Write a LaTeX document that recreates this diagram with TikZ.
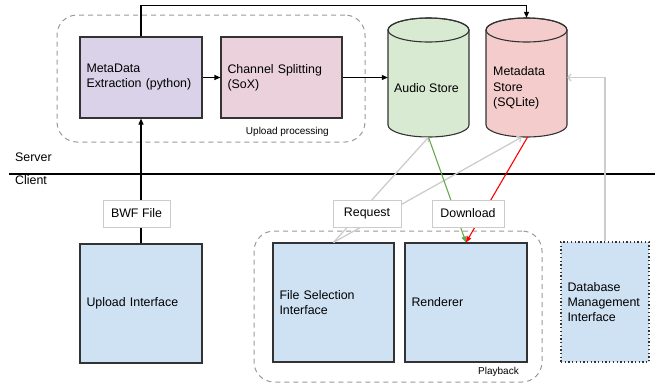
\documentclass[tikz,border=0pt]{standalone}
\usepackage{fontspec}
\setmainfont{Liberation Sans}
\usetikzlibrary{arrows.meta}

\definecolor{lav}{HTML}{D9D2E9}
\definecolor{pinkbox}{HTML}{EAD1DC}
\definecolor{greencyl}{HTML}{D9EAD3}
\definecolor{redcyl}{HTML}{F4CCCC}
\definecolor{bluebox}{HTML}{CFE2F3}
\definecolor{edge}{HTML}{333333}
\definecolor{soft}{HTML}{CCCCCC}
\definecolor{dashgray}{HTML}{999999}
\definecolor{dlgreen}{HTML}{6AA84F}
\definecolor{dlred}{HTML}{FF0000}

% database cylinder: centre x, top, bottom, half width, fill colour
\newcommand\storecyl[5]{%
  \filldraw[fill=#5,draw=edge,line width=1.1pt]
    (#1-#4,#2+12) -- (#1-#4,#3-12)
    arc[start angle=180,end angle=0,x radius=#4,y radius=12]
    -- (#1+#4,#2+12)
    arc[start angle=0,end angle=-180,x radius=#4,y radius=12] -- cycle;
  \draw[edge,line width=1.1pt] (#1,#2+12) ellipse[x radius=#4,y radius=12];
}

\begin{document}
\begin{tikzpicture}[x=1pt,y=-1pt,
  font=\fontsize{12.4}{15}\selectfont,
  block/.style={draw=edge,line width=1.1pt,inner xsep=6.5pt,inner ysep=0pt,align=left},
  tag/.style={draw=soft,fill=white,line width=0.8pt,minimum height=27pt,inner sep=0pt},
  group/.style={draw=dashgray,line width=1pt,dash pattern=on 5pt off 4pt,rounded corners=20pt,inner sep=0pt},
  small/.style={font=\fontsize{10}{12}\selectfont,inner sep=0pt},
  link/.style={draw=black,line width=1.1pt,-{Triangle[length=6pt,width=5pt]}},
  softlink/.style={draw=soft,line width=1.3pt,-{Straight Barb[length=3pt,width=7pt]}},
  dl/.style={line width=1.1pt,-{Triangle[length=6pt,width=5pt]}},
]
\useasboundingbox (0,0) rectangle (657,384);

% dashed groups
\node[group,minimum width=308pt,minimum height=127pt] (upgrp) at (211,78.5) {};
\node[group,minimum width=288pt,minimum height=151pt] (playgrp) at (398,306.5) {};
\node[small,anchor=east] (uplabel) at (329,132) {Upload processing};
\node[small,anchor=east] (playlabel) at (519,372) {Playback};

% server side
\node[block,fill=lav,text width=109pt,minimum height=81pt] (meta) at (141,77.5) {MetaData\\Extraction (python)};
\node[block,fill=pinkbox,text width=108pt,minimum height=81pt] (chan) at (281.5,77.5) {Channel Splitting\\(SoX)};

\storecyl{428.5}{18}{137}{40.5}{greencyl}
\storecyl{526.5}{18}{137}{40.5}{redcyl}
\node[minimum width=81pt,minimum height=119pt,inner sep=0pt] (audio) at (428.5,77.5) {};
\node[minimum width=81pt,minimum height=119pt,inner sep=0pt] (mstore) at (526.5,77.5) {};
\node[inner sep=0pt] (audiotext) at (426.5,88) {Audio Store};
\node[inner sep=0pt,anchor=west,align=left,font=\fontsize{12.4}{15.5}\selectfont] (mstoretext) at (493,88) {Metadata\\Store\\(SQLite)};

% server / client divide
\coordinate (divL) at (9,174);
\coordinate (divR) at (655,174);
\draw[black,line width=1.1pt] (divL) -- (divR);
\node[anchor=west,inner sep=0pt] (server) at (15,157) {Server};
\node[anchor=west,inner sep=0pt] (client) at (15,180) {Client};

% client side
\node[block,fill=bluebox,text width=109pt,minimum height=119pt] (upload) at (141,303.5) {Upload Interface};
\node[block,fill=bluebox,text width=108pt,minimum height=119pt] (filesel) at (333.5,302.5) {File Selection\\Interface};
\node[block,fill=bluebox,text width=109pt,minimum height=119pt] (render) at (466,302.5) {Renderer};
\node[block,fill=bluebox,draw=edge,dash pattern=on 1.3pt off 2.4pt,text width=75pt,minimum height=120pt] (dbm) at (605,302) {Database\\Management\\Interface};

% connectors
\draw[link] (meta.north) -- ++(0,-31) -| (mstore.north);
\draw[link] (meta) -- (chan);
\draw[link] (chan) -- (audio);
\draw[link] (upload) -- (meta);
\draw[softlink] (dbm.north) |- (mstore.east);
\draw[softlink] (filesel.north) -- (audio.south);
\draw[softlink] (filesel.north) -- ([xshift=-5pt]mstore.south);
\draw[dl,draw=dlgreen,-{Triangle[length=6pt,width=5pt,fill=dlgreen]}] (audio.south) -- (render.north);
\draw[dl,draw=dlred,-{Triangle[length=6pt,width=5pt,fill=dlred]}] ([xshift=1pt]mstore.south) -- (render.north);

% connector labels
\node[tag,minimum width=67pt] (bwf) at (136.5,213.5) {BWF File};
\node[tag,minimum width=68pt] (req) at (367,213.5) {Request};
\node[tag,minimum width=72pt] (down) at (468,213.5) {Download};
\end{tikzpicture}
\end{document}
